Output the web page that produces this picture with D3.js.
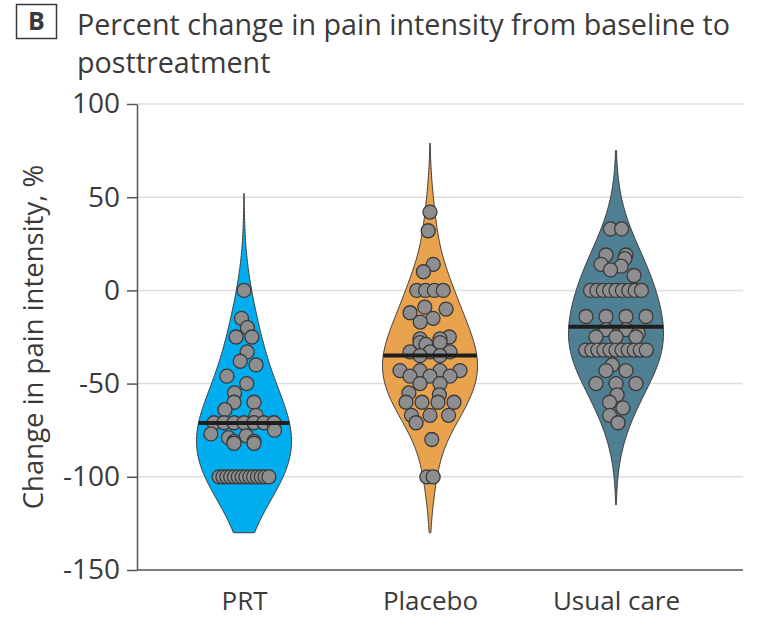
<!DOCTYPE html>
<html>
<head>
<meta charset="utf-8">
<script src="https://cdn.jsdelivr.net/npm/d3@7"></script>
<style>
  body { margin: 0; background: #fff; }
  svg { display: block; }
  text { font-family: "Open Sans", Lato, sans-serif; fill: #3a3a3a; }
</style>
</head>
<body>
<svg id="chart" width="759" height="617"></svg>
<script>
// Groups and per-patient percent change in pain intensity
const categories = ["PRT", "Placebo", "Usual care"];
const prtValues = [0, -15, -20, -25, -25, -33, -38, -40, -46, -50, -55, -60, -60, -64, -67,
  -71, -71, -71, -71, -71, -71, -71,
  -75, -77, -79, -81, -82, -82, -81, -78,
  -100, -100, -100, -100, -100, -100, -100, -100, -100, -100, -100, -100, -100, -100];
const placeboValues = [42, 32, 14, 10, 0, 0, 0, 0, -9, -10, -12, -15, -17,
  -25, -26, -26, -28, -28, -29, -33, -33, -33, -35, -35,
  -43, -43, -43, -43, -46, -46, -46, -50, -50, -55, -56,
  -60, -60, -60, -60, -67, -67, -67, -71, -80, -100, -100];
const usualCareValues = [33, 33, 19, 19, 17, 14, 13, 11, 8,
  0, 0, 0, 0, 0, 0, 0, 0, 0,
  -14, -14, -14, -14, -21, -21, -23, -25, -25, -25,
  -32, -32, -32, -32, -32, -32, -32, -32, -32, -32, -32,
  -40, -43, -43, -50, -50, -50, -56, -60, -63, -67, -71];
const groupValues = [prtValues, placeboValues, usualCareValues];

// Density estimate settings (value units)
const densityLow = [-130, -130, -115];
const densityHigh = [52, 79, 75];
const bandwidths = [22, 17, 20];

const yTicks = [100, 50, 0, -50, -100, -150];
const gridTicks = [100, 50, 0, -50, -100];
const titleLines = ["Percent change in pain intensity from baseline to", "posttreatment"];
const panelLetter = "B";
const yTitle = "Change in pain intensity, %";
const fills = ["#00aeef", "#e9a34f", "#4f7f92"];

const svg = d3.select("#chart");
const plotLeft = 137, plotRight = 743, plotTop = 104, plotBottom = 570;
const maxHalfWidth = 47.5, dotR = 7;

const y = d3.scaleLinear().domain([-150, 100]).range([plotBottom, plotTop]);
const x = d3.scalePoint().domain(categories).range([244, 616]);

// gridlines
svg.append("g").selectAll("line").data(gridTicks).join("line")
  .attr("x1", plotLeft).attr("x2", plotRight)
  .attr("y1", d => y(d)).attr("y2", d => y(d))
  .attr("stroke", "#dedede").attr("stroke-width", 1.5);

// axes
const yAxis = svg.append("g").attr("transform", `translate(${plotLeft},0)`)
  .call(d3.axisLeft(y).tickValues(yTicks).tickFormat(d => String(d))
    .tickSize(10).tickSizeOuter(0).tickPadding(7));
yAxis.select(".domain").attr("stroke", "#555").attr("stroke-width", 1.5);
yAxis.selectAll(".tick line").attr("stroke", "#555").attr("stroke-width", 1.5);
yAxis.selectAll(".tick text").attr("font-size", 28).attr("fill", "#3a3a3a")
  .style("font-family", "'Open Sans', Lato, sans-serif");

const xAxis = svg.append("g").attr("transform", `translate(0,${plotBottom})`)
  .call(d3.axisBottom(x).tickSize(0).tickPadding(22));
xAxis.select(".domain").attr("d", `M${plotLeft},0H${plotRight}`)
  .attr("stroke", "#555").attr("stroke-width", 1.5);
xAxis.selectAll(".tick text").attr("font-size", 26).attr("fill", "#3a3a3a")
  .style("font-family", "'Open Sans', Lato, sans-serif");

function vdc(n) {
  let v = 0, denom = 1;
  while (n) { denom *= 2; v += (n % 2) / denom; n = Math.floor(n / 2); }
  return v;
}

const violins = svg.append("g");
const dots = svg.append("g");
const means = svg.append("g");

categories.forEach((cat, gi) => {
  const vals = groupValues[gi];
  const bw = bandwidths[gi];
  const dens = v => d3.sum(vals, xi => Math.exp(-0.5 * ((v - xi) / bw) ** 2));
  const n = 240;
  const grid = d3.range(n + 1).map(i => densityLow[gi] + (densityHigh[gi] - densityLow[gi]) * i / n);
  const pts = grid.map(v => ({ v, d: dens(v) }));
  const maxD = d3.max(pts, p => p.d);
  const w = d3.scaleLinear().domain([0, maxD]).range([0, maxHalfWidth]);
  const cx = x(cat);

  violins.append("path")
    .datum(pts)
    .attr("d", d3.area().curve(d3.curveCatmullRom)
      .y(p => y(p.v)).x0(p => cx - w(p.d)).x1(p => cx + w(p.d)))
    .attr("fill", fills[gi]).attr("stroke", "#3a3a3a").attr("stroke-width", 1);

  // dot positions: tied values form an evenly spaced row, single values are spread quasi-randomly
  const rows = d3.groups(vals, v => v).sort((a, b) => b[0] - a[0]);
  const placed = [];
  rows.forEach(([v, members], k) => {
    const usable = Math.max(w(dens(v)) - 8, 4);
    const m = members.length;
    if (m === 1) {
      placed.push({ v, dx: (vdc(k + 1) * 2 - 1) * usable * 0.9 });
    } else {
      const s = Math.min(20, 2 * usable * 0.8 / (m - 1));
      members.forEach((_, i) => placed.push({ v, dx: (i - (m - 1) / 2) * s }));
    }
  });
  dots.append("g").selectAll("circle").data(placed).join("circle")
    .attr("cx", d => cx + d.dx).attr("cy", d => y(d.v)).attr("r", dotR)
    .attr("fill", "#8e8e91").attr("stroke", "#3a3a3a").attr("stroke-width", 1.3);

  const mean = d3.mean(vals);
  const mw = w(dens(mean));
  means.append("line")
    .attr("x1", cx - mw).attr("x2", cx + mw)
    .attr("y1", y(mean)).attr("y2", y(mean))
    .attr("stroke", "#1e1e1e").attr("stroke-width", 4);
});

// y-axis title
svg.append("text")
  .attr("transform", `translate(43,${(plotTop + plotBottom) / 2}) rotate(-90)`)
  .attr("text-anchor", "middle").attr("font-size", 27.5)
  .text(yTitle);

// panel letter box and title
svg.append("rect").attr("x", 16.5).attr("y", 4.5).attr("width", 40).attr("height", 34)
  .attr("fill", "none").attr("stroke", "#3a3a3a").attr("stroke-width", 1.5);
svg.append("text").attr("x", 36.5).attr("y", 30).attr("text-anchor", "middle")
  .attr("font-size", 25).attr("font-weight", "bold").text(panelLetter);
svg.append("g").selectAll("text").data(titleLines).join("text")
  .attr("x", 77).attr("y", (d, i) => 35 + i * 38)
  .attr("font-size", 28.7).text(d => d);
</script>
</body>
</html>
